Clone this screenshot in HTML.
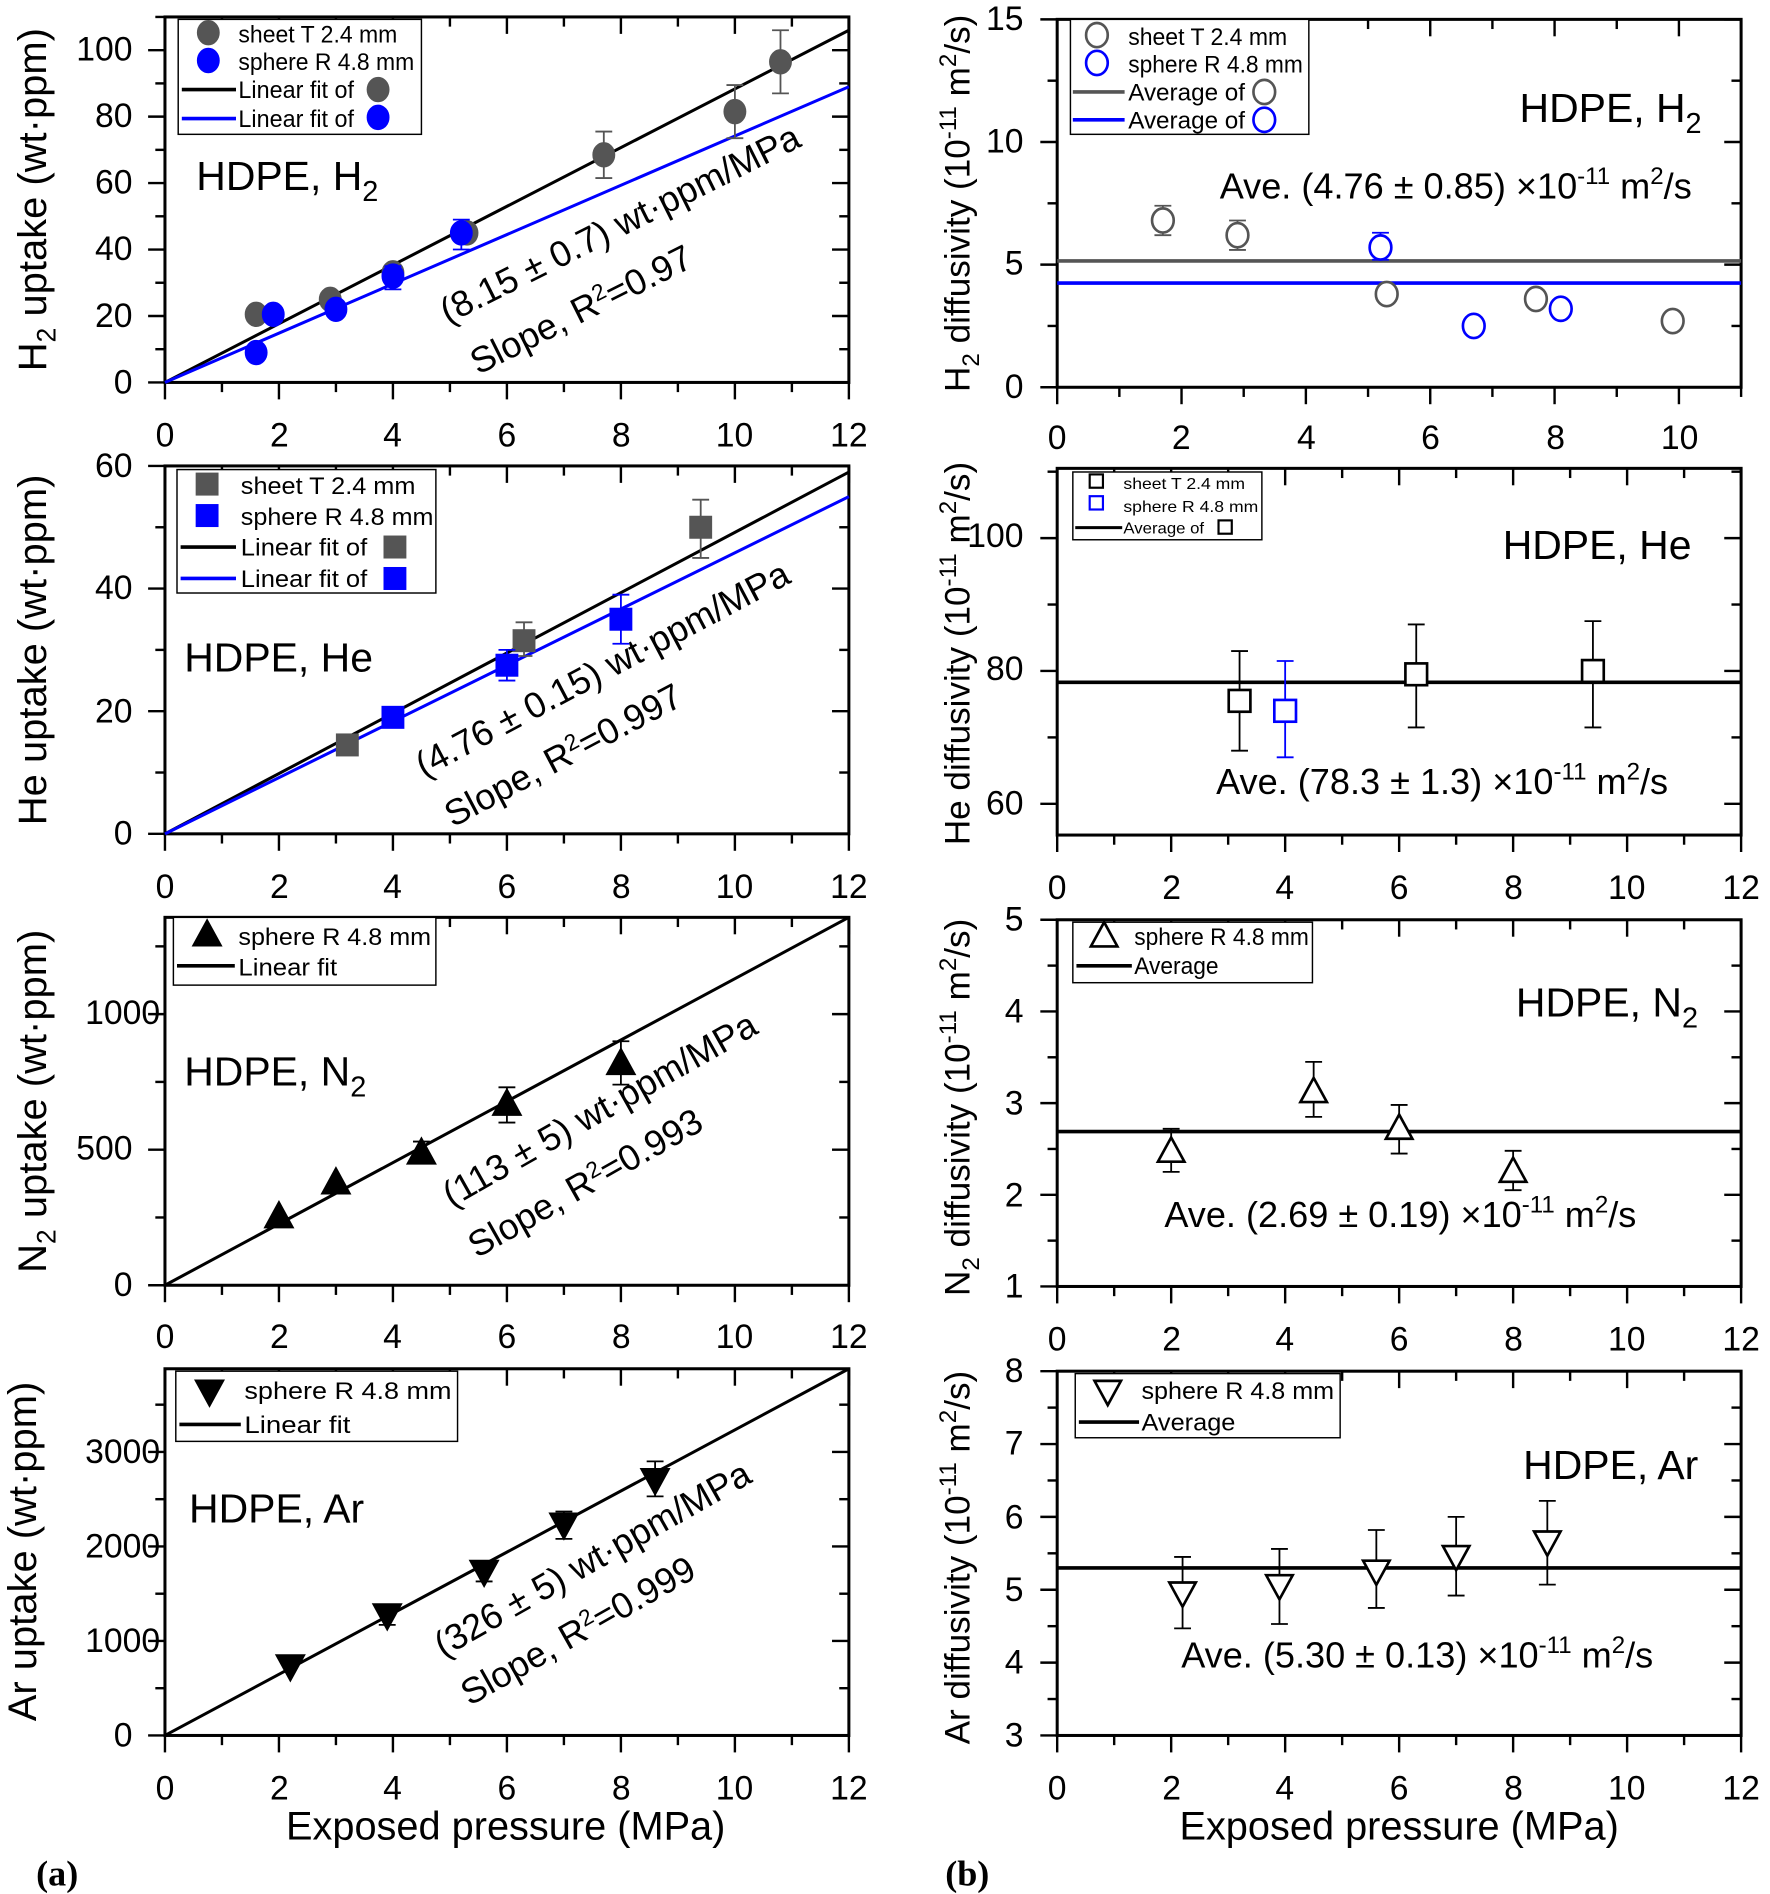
<!DOCTYPE html>
<html><head><meta charset="utf-8"><style>
html,body{margin:0;padding:0;background:#fff}
svg{display:block}
text{font-family:"Liberation Sans Narrow","Liberation Sans",sans-serif;fill:#000}
.t{font-size:28px}
.lg{font-size:20px}
.big{font-size:34px}
.rt{font-size:30px}
.ax{font-size:33px;font-family:"Liberation Sans",sans-serif}
.axb{font-size:29px;font-family:"Liberation Sans",sans-serif}
</style></head><body>
<svg id="s" width="1770" height="1894" viewBox="0 0 1470 1565" preserveAspectRatio="none" xmlns="http://www.w3.org/2000/svg">
<g id="g"></g>
<g class="t" text-anchor="middle">
<text x="137" y="369">0</text><text x="232" y="369">2</text><text x="326" y="369">4</text><text x="421" y="369">6</text><text x="516" y="369">8</text><text x="610" y="369">10</text><text x="705" y="369">12</text>
<text x="137" y="742">0</text><text x="232" y="742">2</text><text x="326" y="742">4</text><text x="421" y="742">6</text><text x="516" y="742">8</text><text x="610" y="742">10</text><text x="705" y="742">12</text>
<text x="137" y="1114">0</text><text x="232" y="1114">2</text><text x="326" y="1114">4</text><text x="421" y="1114">6</text><text x="516" y="1114">8</text><text x="610" y="1114">10</text><text x="705" y="1114">12</text>
<text x="137" y="1487">0</text><text x="232" y="1487">2</text><text x="326" y="1487">4</text><text x="421" y="1487">6</text><text x="516" y="1487">8</text><text x="610" y="1487">10</text><text x="705" y="1487">12</text>
<text x="878" y="371">0</text><text x="981" y="371">2</text><text x="1085" y="371">4</text><text x="1188" y="371">6</text><text x="1292" y="371">8</text><text x="1395" y="371">10</text>
<text x="878" y="743">0</text><text x="973" y="743">2</text><text x="1067" y="743">4</text><text x="1162" y="743">6</text><text x="1257" y="743">8</text><text x="1351" y="743">10</text><text x="1446" y="743">12</text>
<text x="878" y="1116">0</text><text x="973" y="1116">2</text><text x="1067" y="1116">4</text><text x="1162" y="1116">6</text><text x="1257" y="1116">8</text><text x="1351" y="1116">10</text><text x="1446" y="1116">12</text>
<text x="878" y="1487">0</text><text x="973" y="1487">2</text><text x="1067" y="1487">4</text><text x="1162" y="1487">6</text><text x="1257" y="1487">8</text><text x="1351" y="1487">10</text><text x="1446" y="1487">12</text>
</g>
<g class="t" text-anchor="end">
<text x="110" y="50">100</text><text x="110" y="105">80</text><text x="110" y="160">60</text><text x="110" y="215">40</text><text x="110" y="270">20</text><text x="110" y="325">0</text>
<text x="110" y="394">60</text><text x="110" y="495">40</text><text x="110" y="597">20</text><text x="110" y="698">0</text>
<text x="133" y="846">1000</text><text x="110" y="958">500</text><text x="110" y="1071">0</text>
<text x="133" y="1209">3000</text><text x="133" y="1287">2000</text><text x="133" y="1365">1000</text><text x="110" y="1443">0</text>
<text x="850" y="25">15</text><text x="850" y="126">10</text><text x="850" y="227">5</text><text x="850" y="329">0</text>
<text x="850" y="452">100</text><text x="850" y="562">80</text><text x="850" y="673">60</text>
<text x="850" y="769">5</text><text x="850" y="845">4</text><text x="850" y="921">3</text><text x="850" y="997">2</text><text x="850" y="1072">1</text>
<text x="850" y="1142">8</text><text x="850" y="1202">7</text><text x="850" y="1263">6</text><text x="850" y="1323">5</text><text x="850" y="1383">4</text><text x="850" y="1443">3</text>
</g>
<g class="ax" text-anchor="middle">
<text transform="translate(38,165) rotate(-90)">H<tspan font-size="22" dy="8">2</tspan><tspan dy="-8"> uptake (wt·ppm)</tspan></text>
<text transform="translate(38,537) rotate(-90)">He uptake (wt·ppm)</text>
<text transform="translate(38,910) rotate(-90)">N<tspan font-size="22" dy="8">2</tspan><tspan dy="-8"> uptake (wt·ppm)</tspan></text>
<text transform="translate(30,1282) rotate(-90)">Ar uptake (wt·ppm)</text>
<text x="420" y="1520">Exposed pressure (MPa)</text>
<text x="1162" y="1520">Exposed pressure (MPa)</text>
</g>
<g class="axb" text-anchor="middle">
<text transform="translate(805,168) rotate(-90)">H<tspan font-size="20" dy="8">2</tspan><tspan dy="-8"> diffusivity (10</tspan><tspan font-size="20" dy="-11">-11</tspan><tspan dy="11"> m</tspan><tspan font-size="20" dy="-11">2</tspan><tspan dy="11">/s)</tspan></text>
<text transform="translate(805,540) rotate(-90)">He diffusivity (10<tspan font-size="20" dy="-11">-11</tspan><tspan dy="11"> m</tspan><tspan font-size="20" dy="-11">2</tspan><tspan dy="11">/s)</tspan></text>
<text transform="translate(805,915) rotate(-90)">N<tspan font-size="20" dy="8">2</tspan><tspan dy="-8"> diffusivity (10</tspan><tspan font-size="20" dy="-11">-11</tspan><tspan dy="11"> m</tspan><tspan font-size="20" dy="-11">2</tspan><tspan dy="11">/s)</tspan></text>
<text transform="translate(805,1287) rotate(-90)">Ar diffusivity (10<tspan font-size="20" dy="-11">-11</tspan><tspan dy="11"> m</tspan><tspan font-size="20" dy="-11">2</tspan><tspan dy="11">/s)</tspan></text>
</g>
<text x="30" y="1558" style="font-family:'Liberation Serif',serif;font-weight:bold;font-size:30px">(a)</text>
<text x="785" y="1558" style="font-family:'Liberation Serif',serif;font-weight:bold;font-size:30px">(b)</text>
<g class="big">
<text x="163" y="157">HDPE, H<tspan font-size="24" dy="9">2</tspan></text>
<text x="153" y="555">HDPE, He</text>
<text x="153" y="897">HDPE, N<tspan font-size="24" dy="9">2</tspan></text>
<text x="157" y="1258">HDPE, Ar</text>
<text x="1262" y="101">HDPE, H<tspan font-size="24" dy="9">2</tspan></text>
<text x="1248" y="462">HDPE, He</text>
<text x="1259" y="840">HDPE, N<tspan font-size="24" dy="9">2</tspan></text>
<text x="1265" y="1222">HDPE, Ar</text>
</g>
<g class="rt">
<text transform="translate(372,268) rotate(-26.6)">(8.15 ± 0.7) wt·ppm/MPa</text>
<text transform="translate(397,310) rotate(-26.6)">Slope, R<tspan font-size="19" dy="-10">2</tspan><tspan dy="10">=0.97</tspan></text>
<text transform="translate(352,643) rotate(-27.9)">(4.76 ± 0.15) wt·ppm/MPa</text>
<text transform="translate(376,684) rotate(-27.9)">Slope, R<tspan font-size="19" dy="-10">2</tspan><tspan dy="10">=0.997</tspan></text>
<text transform="translate(375,998) rotate(-29.5)">(113 ± 5) wt·ppm/MPa</text>
<text transform="translate(396,1040) rotate(-29.5)">Slope, R<tspan font-size="19" dy="-10">2</tspan><tspan dy="10">=0.993</tspan></text>
<text transform="translate(368,1370) rotate(-29.5)">(326 ± 5) wt·ppm/MPa</text>
<text transform="translate(390,1410) rotate(-29.5)">Slope, R<tspan font-size="19" dy="-10">2</tspan><tspan dy="10">=0.999</tspan></text>
<text x="1013" y="164">Ave. (4.76 ± 0.85) ×10<tspan font-size="20" dy="-12">-11</tspan><tspan dy="12"> m</tspan><tspan font-size="20" dy="-12">2</tspan><tspan dy="12">/s</tspan></text>
<text x="1010" y="656">Ave. (78.3 ± 1.3) ×10<tspan font-size="20" dy="-12">-11</tspan><tspan dy="12"> m</tspan><tspan font-size="20" dy="-12">2</tspan><tspan dy="12">/s</tspan></text>
<text x="967" y="1014">Ave. (2.69 ± 0.19) ×10<tspan font-size="20" dy="-12">-11</tspan><tspan dy="12"> m</tspan><tspan font-size="20" dy="-12">2</tspan><tspan dy="12">/s</tspan></text>
<text x="981" y="1378">Ave. (5.30 ± 0.13) ×10<tspan font-size="20" dy="-12">-11</tspan><tspan dy="12"> m</tspan><tspan font-size="20" dy="-12">2</tspan><tspan dy="12">/s</tspan></text>
</g>
<g fill="#fff" stroke="#000" stroke-width="1.2">
<rect x="148" y="16" width="202" height="95"/><rect x="147" y="388" width="215" height="102"/>
<rect x="144" y="758" width="218" height="56"/><rect x="146" y="1133" width="234" height="58"/>
<rect x="889" y="16" width="198" height="95"/><rect x="891" y="390" width="157" height="56"/>
<rect x="891" y="762" width="199" height="50"/><rect x="893" y="1135" width="220" height="53"/>
</g>
<g class="lg">
<text x="198" y="35" textLength="132" lengthAdjust="spacingAndGlyphs">sheet T 2.4 mm</text><text x="198" y="58" textLength="146" lengthAdjust="spacingAndGlyphs">sphere R 4.8 mm</text><text x="198" y="81" textLength="96" lengthAdjust="spacingAndGlyphs">Linear fit of</text><text x="198" y="105" textLength="96" lengthAdjust="spacingAndGlyphs">Linear fit of</text>
<text x="200" y="408" textLength="145" lengthAdjust="spacingAndGlyphs">sheet T 2.4 mm</text><text x="200" y="434" textLength="160" lengthAdjust="spacingAndGlyphs">sphere R 4.8 mm</text><text x="200" y="459" textLength="105" lengthAdjust="spacingAndGlyphs">Linear fit of</text><text x="200" y="485" textLength="105" lengthAdjust="spacingAndGlyphs">Linear fit of</text>
<text x="198" y="781" textLength="160" lengthAdjust="spacingAndGlyphs">sphere R 4.8 mm</text><text x="198" y="806" textLength="82" lengthAdjust="spacingAndGlyphs">Linear fit</text>
<text x="203" y="1156" textLength="172" lengthAdjust="spacingAndGlyphs">sphere R 4.8 mm</text><text x="203" y="1184" textLength="88" lengthAdjust="spacingAndGlyphs">Linear fit</text>
<text x="937" y="37" textLength="132" lengthAdjust="spacingAndGlyphs">sheet T 2.4 mm</text><text x="937" y="60" textLength="145" lengthAdjust="spacingAndGlyphs">sphere R 4.8 mm</text><text x="937" y="83" textLength="97" lengthAdjust="spacingAndGlyphs">Average of</text><text x="937" y="106" textLength="97" lengthAdjust="spacingAndGlyphs">Average of</text>
<text x="933" y="404" font-size="13" textLength="101" lengthAdjust="spacingAndGlyphs">sheet T 2.4 mm</text><text x="933" y="423" font-size="13" textLength="112" lengthAdjust="spacingAndGlyphs">sphere R 4.8 mm</text><text x="933" y="441" font-size="13" textLength="67" lengthAdjust="spacingAndGlyphs">Average of</text>
<text x="942" y="781" textLength="145" lengthAdjust="spacingAndGlyphs">sphere R 4.8 mm</text><text x="942" y="805" textLength="70" lengthAdjust="spacingAndGlyphs">Average</text>
<text x="948" y="1156" textLength="160" lengthAdjust="spacingAndGlyphs">sphere R 4.8 mm</text><text x="948" y="1182" textLength="78" lengthAdjust="spacingAndGlyphs">Average</text>
</g>
<g id="m"></g>
</svg>
<script>
var NS="http://www.w3.org/2000/svg";
var G=document.getElementById('g'),M=document.getElementById('m');
function el(p,t,a){var e=document.createElementNS(NS,t);for(var k in a)e.setAttribute(k,a[k]);p.appendChild(e);return e;}
function ln(p,x1,y1,x2,y2,c,w){el(p,'line',{x1:x1,y1:y1,x2:x2,y2:y2,stroke:c||'#000','stroke-width':w||2});}
function panel(L,R,T,B,x0,x1,y0,y1,xs,ys){
 var P={L:L,R:R,T:T,B:B,fx:function(v){return L+(v-x0)/(x1-x0)*(R-L)},fy:function(v){return B-(v-y0)/(y1-y0)*(B-T)}};
 el(G,'rect',{x:L,y:T,width:R-L,height:B-T,fill:'none',stroke:'#000','stroke-width':2.5});
 var i=0;for(var v=x0;v<=x1+1e-9;v+=xs/2,i++){var x=P.fx(v),mj=i%2==0,l=mj?14:8;ln(G,x,B,x,B+l);ln(G,x,T,x,T+l);}
 var st=Math.ceil(y0/(ys/2)-1e-9)*(ys/2);
 for(var v=st;v<=y1+1e-9;v+=ys/2){var y=P.fy(v),mj=Math.abs(v/ys-Math.round(v/ys))<1e-6,l=mj?14:8;ln(G,L-l,y,L,y);ln(G,R-l,y,R,y);}
 return P;}
function eb(P,x,y,lo,hi,c){var X=P.fx(x);ln(M,X,P.fy(lo),X,P.fy(hi),c,1.5);ln(M,X-7,P.fy(lo),X+7,P.fy(lo),c,1.5);ln(M,X-7,P.fy(hi),X+7,P.fy(hi),c,1.5);}
function mk(p,type,x,y,c,fill){var s=9;
 if(type=='c')el(p,'ellipse',{cx:x,cy:y,rx:9,ry:10,fill:fill?c:'#fff',stroke:c,'stroke-width':fill?1:2.2});
 else if(type=='s')el(p,'rect',{x:x-s,y:y-s,width:2*s,height:2*s,fill:fill?c:'#fff',stroke:c,'stroke-width':fill?1:2.2});
 else if(type=='u')el(p,'polygon',{points:(x-11)+','+(y+9)+' '+(x+11)+','+(y+9)+' '+x+','+(y-11),fill:fill?c:'#fff',stroke:c,'stroke-width':2.2});
 else el(p,'polygon',{points:(x-11)+','+(y-9)+' '+(x+11)+','+(y-9)+' '+x+','+(y+11),fill:fill?c:'#fff',stroke:c,'stroke-width':2.2});}
function pts(P,type,arr,c,fill){arr.forEach(function(d){if(d.length>2)eb(P,d[0],d[1],d[2],d[3],c);mk(M,type,P.fx(d[0]),P.fy(d[1]),c,fill);});}
var GR='#555',BL='#0000ff';
var a1=panel(137,705,14,316,0,12,0,110,2,20);
ln(M,a1.fx(0),a1.fy(0),a1.fx(12),a1.fy(106),'#000',2.5);ln(M,a1.fx(0),a1.fy(0),a1.fx(12),a1.fy(89),BL,2.5);
pts(a1,'c',[[1.6,20.5],[2.9,25],[4,33],[5.3,45],[7.7,68.5,61.5,75.5],[10,81.5,73.5,89.5],[10.8,96.5,87,106]],GR,1);
pts(a1,'c',[[1.6,9],[1.9,20.5],[3,22],[4,32,28,35],[5.2,45,40,49]],BL,1);
var a2=panel(137,705,385,689,0,12,0,60,2,20);
ln(M,a2.fx(0),a2.fy(0),a2.fx(12),a2.fy(59),'#000',2.5);ln(M,a2.fx(0),a2.fy(0),a2.fx(12),a2.fy(55),BL,2.5);
pts(a2,'s',[[3.2,14.5],[6.3,31.5,29,34.5],[9.4,50,45,54.5]],GR,1);
pts(a2,'s',[[4,19],[6,27.5,25,30],[8,35,31,39]],BL,1);
var a3=panel(137,705,758,1062,0,12,0,1357,2,500);
ln(M,a3.fx(0),a3.fy(0),a3.fx(12),a3.fy(1357),'#000',2.5);
pts(a3,'u',[[2,255],[3,380],[4.5,490,450,530],[6,670,600,730],[8,820,740,900]],'#000',1);
var a4=panel(137,705,1131,1434,0,12,0,3880,2,1000);
ln(M,a4.fx(0),a4.fy(0),a4.fx(12),a4.fy(3880),'#000',2.5);
pts(a4,'d',[[2.2,730],[3.9,1270,1170,1380],[5.6,1730,1630,1830],[7,2230,2080,2370],[8.6,2700,2530,2900]],'#000',1);
var b1=panel(878,1446,16,320,0,11,0,15,2,5);
ln(M,878,b1.fy(5.15),1446,b1.fy(5.15),GR,3);ln(M,878,b1.fy(4.25),1446,b1.fy(4.25),BL,3);
pts(b1,'c',[[1.7,6.8,6.2,7.4],[2.9,6.2,5.6,6.8],[5.3,3.8],[7.7,3.6],[9.9,2.7]],GR,0);
pts(b1,'c',[[5.2,5.7,5.2,6.3],[6.7,2.5],[8.1,3.2]],BL,0);
var b2=panel(878,1446,387,690,0,12,55.3,110.5,2,20);
ln(M,878,b2.fy(78.3),1446,b2.fy(78.3),'#000',3);
pts(b2,'s',[[3.2,75.5,68,83],[6.3,79.5,71.5,87],[9.4,80,71.5,87.5]],'#000',0);
pts(b2,'s',[[4,74,67,81.5]],BL,0);
var b3=panel(878,1446,760,1063,0,12,1,5,2,1);
ln(M,878,b3.fy(2.69),1446,b3.fy(2.69),'#000',3);
pts(b3,'u',[[2,2.48,2.25,2.72],[4.5,3.13,2.85,3.45],[6,2.73,2.45,2.98],[8,2.26,2.05,2.48]],'#000',0);
var b4=panel(878,1446,1133,1434,0,12,3,8,2,1);
ln(M,878,b4.fy(5.3),1446,b4.fy(5.3),'#000',3);
pts(b4,'d',[[2.2,4.95,4.47,5.45],[3.9,5.05,4.53,5.56],[5.6,5.25,4.75,5.82],[7,5.45,4.92,6.0],[8.6,5.65,5.07,6.22]],'#000',0);
mk(M,'c',173,27,GR,1);mk(M,'c',173,50,BL,1);ln(M,151,74,196,74,'#000',3);ln(M,151,98,196,98,BL,3);mk(M,'c',314,74,GR,1);mk(M,'c',314,97,BL,1);
mk(M,'s',172,400,GR,1);mk(M,'s',172,426,BL,1);ln(M,150,452,196,452,'#000',3);ln(M,150,478,196,478,BL,3);mk(M,'s',328,452,GR,1);mk(M,'s',328,478,BL,1);
mk(M,'u',172,772,'#000',1);ln(M,147,798,195,798,'#000',3);
mk(M,'d',174,1150,'#000',1);ln(M,149,1177,200,1177,'#000',3);
mk(M,'c',911,29,GR,0);mk(M,'c',911,52,BL,0);ln(M,891,76,934,76,GR,3);ln(M,891,99,934,99,BL,3);mk(M,'c',1050,76,GR,0);mk(M,'c',1050,99,BL,0);
el(M,'rect',{x:905,y:392,width:11,height:11,fill:'#fff',stroke:'#000','stroke-width':1.8});
el(M,'rect',{x:905,y:410,width:11,height:11,fill:'#fff',stroke:BL,'stroke-width':1.8});
ln(M,893,436,932,436,'#000',2.5);el(M,'rect',{x:1012,y:430,width:11,height:11,fill:'#fff',stroke:'#000','stroke-width':1.8});
mk(M,'u',917,773,'#000',0);ln(M,894,798,940,798,'#000',3);
mk(M,'d',920,1150,'#000',0);ln(M,896,1175,946,1175,'#000',3);
</script>
</body></html>
